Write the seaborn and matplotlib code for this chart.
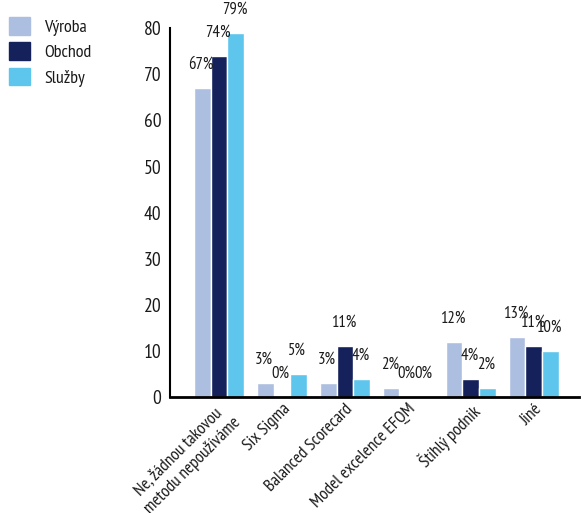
import matplotlib
matplotlib.use("Agg")
import matplotlib.pyplot as plt
import pandas as pd
import seaborn as sns

# ── data ─────────────────────────────────────────────────────────────────────
categories = [
    "Ne, žádnou takovou\nmetodu nepoužíváme",
    "Six Sigma",
    "Balanced Scorecard",
    "Model excelence EFQM",
    "Štíhlý podnik",
    "Jiné",
]
series = ["Výroba", "Obchod", "Služby"]
vyroba = [67, 3, 3, 2, 12, 13]
obchod = [74, 0, 11, 0, 4, 11]
sluzby = [79, 5, 4, 0, 2, 10]
y_ticks = [0, 10, 20, 30, 40, 50, 60, 70, 80]

colors = ["#adbfe0", "#14215a", "#5ec5ec"]

df = pd.DataFrame({
    "kategorie": categories * 3,
    "skupina": [s for s in series for _ in categories],
    "hodnota": vyroba + obchod + sluzby,
})

sns.set_style("white")
plt.rcParams["font.family"] = ["PT Sans Narrow", "DejaVu Sans"]
plt.rcParams["text.color"] = "#1a1a1a"

fig = plt.figure(figsize=(5.82, 5.13), dpi=100)
ax = fig.add_axes([0.292, 0.226, 0.703, 0.719])

sns.barplot(data=df, x="kategorie", y="hodnota", hue="skupina",
            palette=colors, width=0.8, saturation=1, ax=ax, legend=False)

# percentage labels above bars
for cont in ax.containers:
    for bar in cont:
        h = bar.get_height()
        ax.annotate(f"{h:.0f}%", (bar.get_x() + bar.get_width() / 2, h),
                    xytext=(-1, 11), textcoords="offset points",
                    ha="center", va="bottom", fontsize=12, color="#1a1a1a")

ax.set_ylim(0, 80)
ax.set_xlim(-0.78, 5.72)
ax.set_yticks(y_ticks)
ax.set_xlabel("")
ax.set_ylabel("")
ax.tick_params(axis="y", direction="in", length=8, width=1.2, labelsize=14,
               pad=6, colors="#1a1a1a")
ax.tick_params(axis="x", length=0, labelsize=12.5, pad=3, colors="#1a1a1a")
plt.setp(ax.get_xticklabels(), rotation=45, ha="right", rotation_mode="anchor",
         multialignment="center")

for s in ["top", "right"]:
    ax.spines[s].set_visible(False)
ax.spines["left"].set_linewidth(1.5)
ax.spines["bottom"].set_linewidth(2)
ax.spines["left"].set_color("black")
ax.spines["bottom"].set_color("black")

handles = [plt.Rectangle((0, 0), 1, 1, color=c) for c in colors]
fig.legend(handles, series, loc="upper left", bbox_to_anchor=(0.0, 0.985),
           frameon=False, fontsize=13, handlelength=1.15, handleheight=1.15,
           handletextpad=0.8, labelspacing=0.35, borderaxespad=0.1)

fig.savefig("out.png", dpi=100)
